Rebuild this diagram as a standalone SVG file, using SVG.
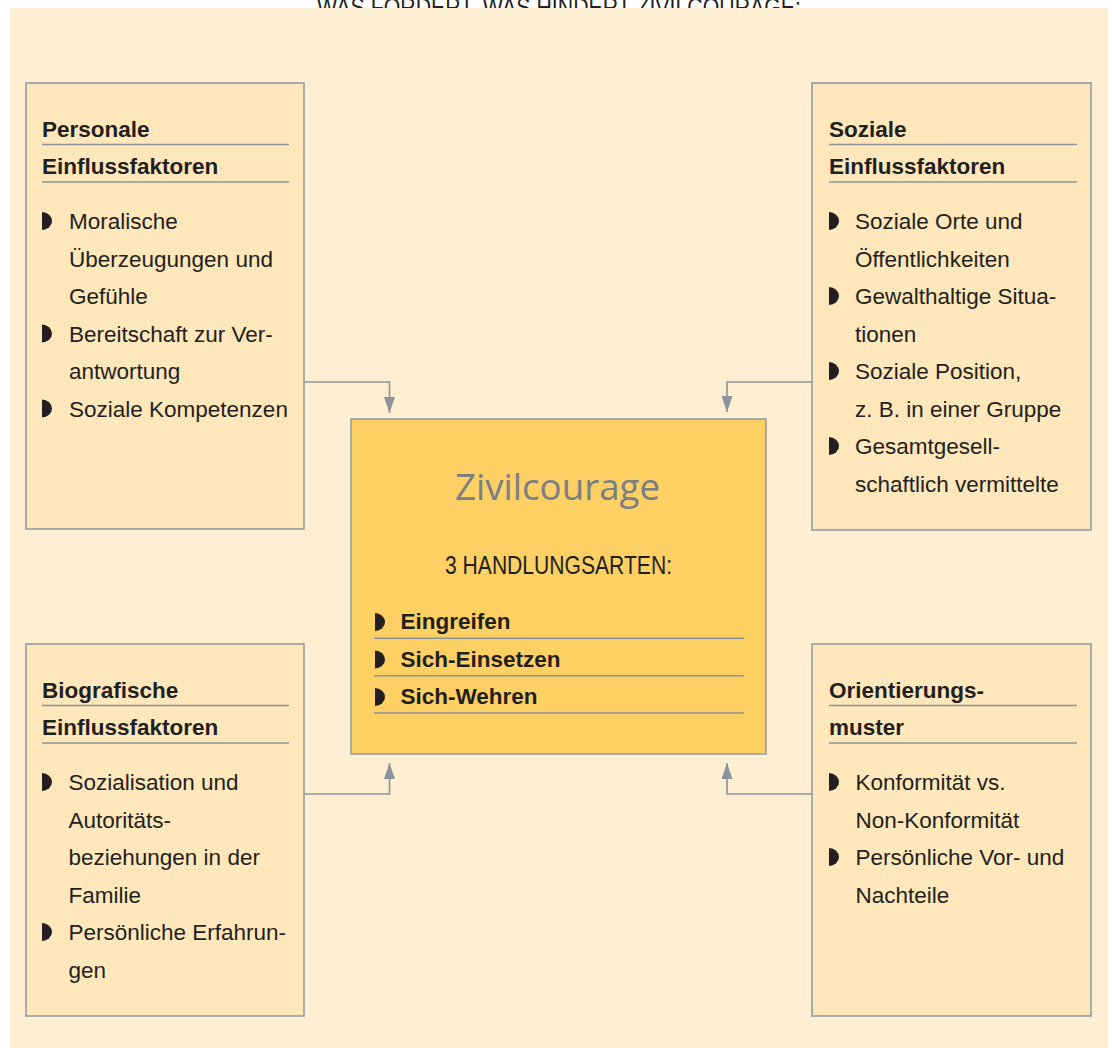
<svg xmlns="http://www.w3.org/2000/svg" width="1112" height="1048" viewBox="0 0 1112 1048">
<style>
.box{fill:#FEE7BA;stroke:#979BA2;stroke-width:1.6}
.core{fill:#FDD064;stroke:#9A9DA3;stroke-width:1.6}
.rule{stroke:#8E939B;stroke-width:1.6;fill:none}
.conn{stroke:#8E939B;stroke-width:1.6;fill:none}
.h{font-family:"Liberation Sans",Arial,sans-serif;font-weight:bold;font-size:22.5px;fill:#231F20}
.t{font-family:"Liberation Sans",Arial,sans-serif;font-size:22.5px;fill:#231F20}
.cap{font-family:"Liberation Sans",Arial,sans-serif;font-size:26px;fill:#231F20}
.zc{font-family:"Open Sans","Noto Sans",sans-serif;font-size:37px;fill:#7B7E84}
.bul{fill:#231F20}
</style>
<defs>
<path id="b" d="M0,0 A10,9 0 0 1 0,18 Z"/>
<marker id="arr" markerUnits="userSpaceOnUse" viewBox="0 0 16 11" refX="16" refY="5.5" markerWidth="16" markerHeight="11" orient="auto">
<path d="M0,0 L16,5.5 L0,11 Z" fill="#8E939B"/>
</marker>
</defs>

<text class="cap" x="317" y="16" textLength="484" lengthAdjust="spacingAndGlyphs">WAS FÖRDERT, WAS HINDERT ZIVILCOURAGE:</text>
<rect x="10" y="8" width="1098" height="1040" fill="#FEEFD2"/>

<g id="connectors">
<path class="conn" d="M304,382 H389.5 V413" marker-end="url(#arr)"/>
<path class="conn" d="M812,382 H727 V412" marker-end="url(#arr)"/>
<path class="conn" d="M304,794 H389.5 V763" marker-end="url(#arr)"/>
<path class="conn" d="M812,794 H727 V763" marker-end="url(#arr)"/>
</g>

<g id="personale">
<rect class="box" x="26" y="83" width="278" height="446"/>
<text class="h" x="42" y="137">Personale</text>
<line class="rule" x1="42" y1="144.5" x2="289" y2="144.5"/>
<text class="h" x="42" y="174">Einflussfaktoren</text>
<line class="rule" x1="42" y1="182" x2="289" y2="182"/>
<use href="#b" class="bul" x="42" y="212"/>
<use href="#b" class="bul" x="42" y="324.5"/>
<use href="#b" class="bul" x="42" y="399.5"/>
<text class="t" x="69" y="229">Moralische</text>
<text class="t" x="69" y="266.5">Überzeugungen und</text>
<text class="t" x="69" y="304">Gefühle</text>
<text class="t" x="69" y="341.5">Bereitschaft zur Ver-</text>
<text class="t" x="69" y="379">antwortung</text>
<text class="t" x="69" y="416.5">Soziale Kompetenzen</text>
</g>

<g id="soziale">
<rect class="box" x="812" y="83" width="279" height="447"/>
<text class="h" x="829" y="137">Soziale</text>
<line class="rule" x1="829" y1="144.5" x2="1077" y2="144.5"/>
<text class="h" x="829" y="174">Einflussfaktoren</text>
<line class="rule" x1="829" y1="182" x2="1077" y2="182"/>
<use href="#b" class="bul" x="829" y="212"/>
<use href="#b" class="bul" x="829" y="287"/>
<use href="#b" class="bul" x="829" y="362"/>
<use href="#b" class="bul" x="829" y="437"/>
<text class="t" x="855" y="229">Soziale Orte und</text>
<text class="t" x="855" y="266.5">Öffentlichkeiten</text>
<text class="t" x="855" y="304">Gewalthaltige Situa-</text>
<text class="t" x="855" y="341.5">tionen</text>
<text class="t" x="855" y="379">Soziale Position,</text>
<text class="t" x="855" y="416.5">z. B. in einer Gruppe</text>
<text class="t" x="855" y="454">Gesamtgesell-</text>
<text class="t" x="855" y="491.5">schaftlich vermittelte</text>
</g>

<g id="biografische">
<rect class="box" x="26" y="644" width="278" height="372"/>
<text class="h" x="42" y="697.5">Biografische</text>
<line class="rule" x1="42" y1="705.5" x2="289" y2="705.5"/>
<text class="h" x="42" y="734.5">Einflussfaktoren</text>
<line class="rule" x1="42" y1="743" x2="289" y2="743"/>
<use href="#b" class="bul" x="42" y="773"/>
<use href="#b" class="bul" x="42" y="923"/>
<text class="t" x="68.5" y="790">Sozialisation und</text>
<text class="t" x="68.5" y="827.5">Autoritäts-</text>
<text class="t" x="68.5" y="865">beziehungen in der</text>
<text class="t" x="68.5" y="902.5">Familie</text>
<text class="t" x="68.5" y="940">Persönliche Erfahrun-</text>
<text class="t" x="68.5" y="977.5">gen</text>
</g>

<g id="orientierung">
<rect class="box" x="812" y="644" width="279" height="372"/>
<text class="h" x="829" y="697.5">Orientierungs-</text>
<line class="rule" x1="829" y1="705.5" x2="1077" y2="705.5"/>
<text class="h" x="829" y="734.5">muster</text>
<line class="rule" x1="829" y1="743" x2="1077" y2="743"/>
<use href="#b" class="bul" x="829" y="773"/>
<use href="#b" class="bul" x="829" y="848"/>
<text class="t" x="855.5" y="790">Konformität vs.</text>
<text class="t" x="855.5" y="827.5">Non-Konformität</text>
<text class="t" x="855.5" y="865">Persönliche Vor- und</text>
<text class="t" x="855.5" y="902.5">Nachteile</text>
</g>

<g id="zivilcourage">
<rect class="core" x="351" y="419" width="415" height="335"/>
<text class="zc" x="455" y="500" textLength="205" lengthAdjust="spacingAndGlyphs">Zivilcourage</text>
<text class="cap" x="445" y="574" textLength="227" lengthAdjust="spacingAndGlyphs">3 HANDLUNGSARTEN:</text>
<use href="#b" class="bul" x="375" y="613"/>
<text class="h" x="400.5" y="629">Eingreifen</text>
<line class="rule" x1="374" y1="638.3" x2="744" y2="638.3"/>
<use href="#b" class="bul" x="375" y="650.5"/>
<text class="h" x="400.5" y="666.5">Sich-Einsetzen</text>
<line class="rule" x1="374" y1="675.7" x2="744" y2="675.7"/>
<use href="#b" class="bul" x="375" y="688"/>
<text class="h" x="400.5" y="704">Sich-Wehren</text>
<line class="rule" x1="374" y1="713" x2="744" y2="713"/>
</g>
</svg>
